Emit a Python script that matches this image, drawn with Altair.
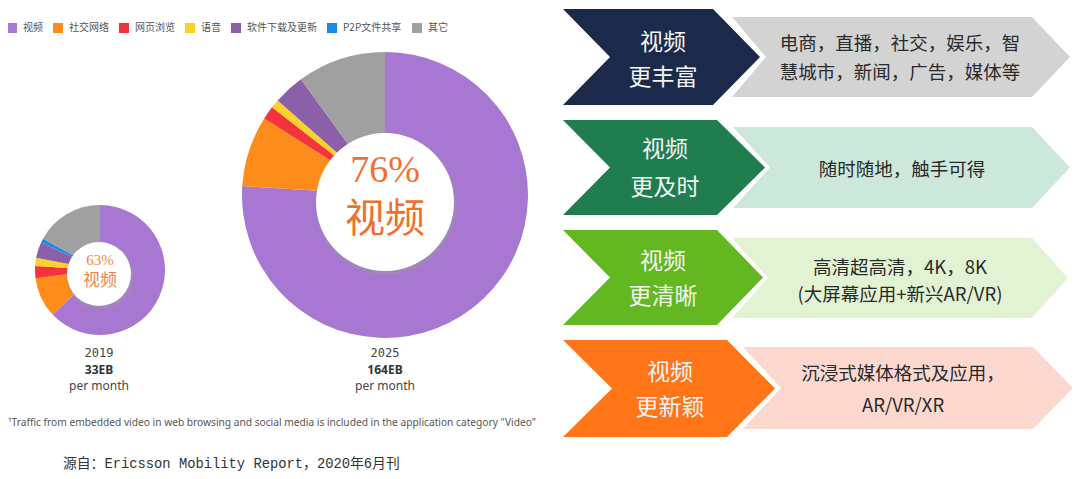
import altair as alt
import pandas as pd

# ---------------- data ----------------
categories = ["视频", "社交网络", "网页浏览", "语音", "软件下载及更新", "P2P文件共享", "其它"]
cat_colors = ["#A877D2", "#FD8C1A", "#F5333A", "#FCD12A", "#8B60A8", "#1E88E5", "#A0A0A0"]
share_2019 = [63, 10, 3, 2, 4, 1, 17]
share_2025 = [76, 8, 1.5, 1, 3.5, 0, 10]
years = ["2019", "2025"]
volumes = ["33EB", "164EB"]
video_pct = ["63%", "76%"]

row_heads = [["视频", "更丰富"], ["视频", "更及时"], ["视频", "更清晰"], ["视频", "更新颖"]]
row_texts = [["电商，直播，社交，娱乐，智", "慧城市，新闻，广告，媒体等"],
             ["随时随地，触手可得"],
             ["高清超高清，4K，8K", "(大屏幕应用+新兴AR/VR)"],
             ["沉浸式媒体格式及应用，", "AR/VR/XR"]]
head_colors = ["#1B2A4B", "#1F7D50", "#63B721", "#FF7518"]
body_colors = ["#D3D3D3", "#CCE8DB", "#E2F3D3", "#FDD8CE"]

footnote = "\u00b9Traffic from embedded video in web browsing and social media is included in the application category \"Video\""
source = "源自：Ericsson Mobility Report，2020年6月刊"

# ---------------- layout helpers ----------------
OFF = 8
W, H = 1064, 463
CJK = "Noto Sans CJK SC"

one = alt.Data(values=[{"k": 1}])


def text(lines, x, y, size, color, font=CJK, weight="normal", align="center", lh=None):
    # for multi-line text, y is the centre of the first line
    kw = dict(fontSize=size, color=color, font=font, fontWeight=weight,
              align=align, baseline="middle")
    if lh is not None:
        kw["lineHeight"] = lh
    return alt.Chart(one).mark_text(**kw).encode(
        x=alt.value(x - OFF), y=alt.value(y - OFF), text=alt.value(lines))


color_scale = alt.Scale(domain=categories, range=cat_colors)
legend = alt.Legend(orient="none", legendX=-1, legendY=15, direction="horizontal",
                    title=None, symbolType="square", symbolSize=100,
                    symbolStrokeWidth=0, labelFont=CJK, labelFontSize=10,
                    labelColor="#555555", labelOffset=6, columnPadding=10,
                    padding=0)


def donut(vals, cx, cy, r):
    df = pd.DataFrame({"cat": categories, "share": vals, "ord": list(range(len(categories)))})
    return alt.Chart(df).mark_arc(radius=r, strokeWidth=0).encode(
        theta=alt.Theta("share:Q", stack=True),
        order=alt.Order("ord:Q"),
        color=alt.Color("cat:N", scale=color_scale, legend=legend),
        x=alt.value(cx - OFF), y=alt.value(cy - OFF))


def hole(cx, cy, r):
    sh = alt.Chart(one).mark_circle(color="#9a9a9a", opacity=0.45, size=(2 * r + 3) ** 2).encode(
        x=alt.value(cx - OFF + 1), y=alt.value(cy - OFF + 2))
    c = alt.Chart(one).mark_circle(color="white", opacity=1, size=(2 * r) ** 2).encode(
        x=alt.value(cx - OFF), y=alt.value(cy - OFF))
    return [sh, c]


def chevron(top, bot, left, notch, corner, tip, fill):
    # custom symbol path; with size=4 the path units are pixels
    t, b, m = top - OFF, bot - OFF, (top + bot) / 2 - OFF
    l, n, c, p = left - OFF, notch - OFF, corner - OFF, tip - OFF
    path = (f"M {l} {t} L {c} {t} L {p} {m} L {c} {b} L {l} {b} L {n} {m} Z")
    return alt.Chart(one).mark_point(shape=path, size=4, filled=True, fill=fill,
                                     opacity=1, strokeWidth=0).encode(
        x=alt.value(0), y=alt.value(0))


layers = []

# chevrons
head_geom = [(9, 105, 563, 610, 713, 760),
             (120, 215, 563, 610, 717, 765),
             (230, 325, 563, 610, 717, 763),
             (340, 437, 563, 612, 727, 775)]
body_geom = [(17, 97, 732, 766, 1032, 1070),
             (127, 208, 733, 770, 1032, 1070),
             (238, 318, 732, 768, 1032, 1068),
             (347, 429, 743, 781, 1033, 1073)]
for i in range(4):
    layers.append(chevron(*body_geom[i], body_colors[i]))
    layers.append(chevron(*head_geom[i], head_colors[i]))

head_text_pos = [(663, 43, 35), (665, 150, 38), (663, 262, 35), (670, 373, 35)]
body_text_pos = [(900, 44, 29), (902, 170, 29), (900, 268, 27), (903, 374, 32)]
for i in range(4):
    hx, hy, hlh = head_text_pos[i]
    layers.append(text(row_heads[i], hx, hy, 23, "#F4F4F4", lh=hlh))
    bx, by, blh = body_text_pos[i]
    t = row_texts[i] if len(row_texts[i]) > 1 else row_texts[i][0]
    layers.append(text(t, bx, by, 18.5, "#2A2A2A", lh=blh))

# donuts
layers.append(donut(share_2019, 100, 270, 65))
layers.append(donut(share_2025, 385, 195, 143))
layers += hole(99, 274, 32)
layers += hole(385, 202, 69)

layers.append(text(video_pct[0], 100, 260, 15, "#F5874A", font="Liberation Serif"))
layers.append(text("视频", 100, 281, 17, "#F5874A"))
layers.append(text(video_pct[1], 385, 171, 38, "#F07030", font="Liberation Serif"))
layers.append(text("视频", 385, 220, 40, "#F07030"))

for (cx, yr, vol) in [(99, years[0], volumes[0]), (385, years[1], volumes[1])]:
    layers.append(text(yr, cx, 353, 12, "#444444", font="DejaVu Sans Mono"))
    layers.append(text(vol, cx, 370, 12, "#333333", font="Noto Sans", weight="bold"))
    layers.append(text("per month", cx, 386, 12, "#444444", font="Noto Sans"))

layers.append(text(footnote, 8, 423, 10.2, "#555555", font="Noto Sans", align="left"))
layers.append(text(source, 63, 464, 13.8, "#333333", font="Liberation Mono, Noto Sans CJK SC", align="left"))

chart = alt.layer(*layers).resolve_scale(theta="independent").properties(
    width=W, height=H, padding=0,
    autosize=alt.AutoSizeParams(type="none"),
    background="white",
).configure_view(stroke=None)

chart.save("out.html", embed_options={"renderer": "svg", "actions": False})
